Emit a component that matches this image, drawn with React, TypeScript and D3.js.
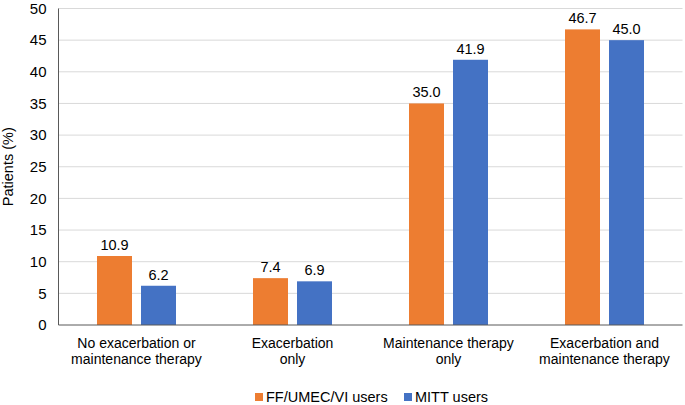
import React from "react";
import * as d3 from "d3";

const categories = [
  ["No exacerbation or", "maintenance therapy"],
  ["Exacerbation", "only"],
  ["Maintenance therapy", "only"],
  ["Exacerbation and", "maintenance therapy"]
];
const seriesNames = ["FF/UMEC/VI users", "MITT users"];
const ffUmecVi = [10.9, 7.4, 35.0, 46.7];
const mitt = [6.2, 6.9, 41.9, 45.0];
const yTicks = [0, 5, 10, 15, 20, 25, 30, 35, 40, 45, 50];
const colors = ["#ED7D31", "#4472C4"];

const width = 685;
const height = 405;
const margin = { top: 8.5, right: 2.5, bottom: 80, left: 58.5 };
const font = "'Liberation Sans', Arial, sans-serif";

export default function App() {
  const values = [ffUmecVi, mitt];
  const keys = categories.map((c, i) => String(i));

  const x = d3
    .scaleBand()
    .domain(keys)
    .range([margin.left, width - margin.right])
    .padding(0);
  const xSub = d3
    .scaleBand()
    .domain(["0", "1"])
    .range([0, x.bandwidth()])
    .paddingInner(0.2045)
    .paddingOuter(0.875);
  const y = d3
    .scaleLinear()
    .domain([0, 50])
    .range([height - margin.bottom, margin.top]);

  return (
    <svg
      width={width}
      height={height}
      style={{ position: "absolute", left: 0, top: 0, fontFamily: font }}
    >
      <rect width={width} height={height} fill="#fff" />
      {yTicks.map(t => (
        <g key={t}>
          {t > 0 && (
            <line
              x1={margin.left}
              x2={width - margin.right}
              y1={y(t)}
              y2={y(t)}
              stroke="#d9d9d9"
              strokeWidth={1}
            />
          )}
          <text
            x={margin.left - 12}
            y={y(t)}
            dy="0.35em"
            textAnchor="end"
            fontSize={15}
            fill="#000"
          >
            {t}
          </text>
        </g>
      ))}
      {values.map((vals, s) =>
        vals.map((v, i) => {
          const bx = (x(keys[i]) as number) + (xSub(String(s)) as number);
          return (
            <g key={s + "-" + i}>
              <rect
                x={bx}
                y={y(v)}
                width={xSub.bandwidth()}
                height={y(0) - y(v)}
                fill={colors[s]}
              />
              <text
                x={bx + xSub.bandwidth() / 2}
                y={y(v) - 6}
                textAnchor="middle"
                fontSize={14.5}
                fill="#000"
              >
                {v.toFixed(1)}
              </text>
            </g>
          );
        })
      )}
      <line
        x1={margin.left}
        x2={margin.left}
        y1={margin.top}
        y2={y(0)}
        stroke="#595959"
        strokeWidth={1}
      />
      <line
        x1={margin.left}
        x2={width - margin.right}
        y1={y(0)}
        y2={y(0)}
        stroke="#595959"
        strokeWidth={1}
      />
      {categories.map((c, i) => (
        <text
          key={i}
          x={(x(keys[i]) as number) + x.bandwidth() / 2}
          y={y(0) + 23}
          textAnchor="middle"
          fontSize={14}
          fill="#000"
        >
          {c.map((line, j) => (
            <tspan key={j} x={(x(keys[i]) as number) + x.bandwidth() / 2} dy={j === 0 ? 0 : 16}>
              {line}
            </tspan>
          ))}
        </text>
      ))}
      <text
        transform={`translate(13,${(margin.top + y(0)) / 2}) rotate(-90)`}
        textAnchor="middle"
        fontSize={14.5}
        fill="#000"
      >
        Patients (%)
      </text>
      <g>
        {seriesNames.map((name, s) => {
          const lx = s === 0 ? 255 : 404;
          return (
            <g key={name}>
              <rect x={lx} y={393} width={8} height={8} fill={colors[s]} />
              <text x={lx + 11} y={397} dy="0.35em" fontSize={14.5} fill="#000">
                {name}
              </text>
            </g>
          );
        })}
      </g>
    </svg>
  );
}
